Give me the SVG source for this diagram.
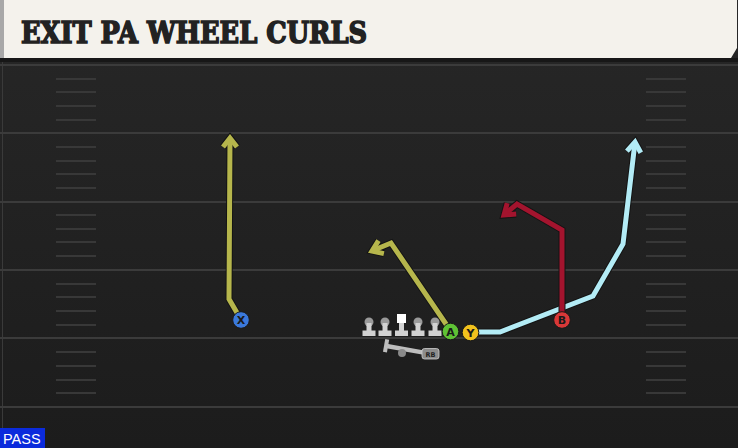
<svg xmlns="http://www.w3.org/2000/svg" width="738" height="448" viewBox="0 0 738 448">
<defs>
<linearGradient id="fieldg" x1="0" y1="0" x2="0" y2="1">
<stop offset="0" stop-color="#272727"/>
<stop offset="1" stop-color="#1c1c1c"/>
</linearGradient>
<style>
.yl{stroke:#3b3b3b;stroke-width:2}
.hm{stroke:#383838;stroke-width:2}
.out{fill:none;stroke:#141414;stroke-width:7;stroke-linejoin:miter;stroke-linecap:butt}
.rt{fill:none;stroke-width:5;stroke-linejoin:miter;stroke-linecap:butt}
.pl{stroke:#1a1a1a;stroke-width:1}
.lbl{font-family:"DejaVu Sans",sans-serif;font-weight:bold;font-size:11px;fill:#1a1a1a;text-anchor:middle}
.ol{fill:#d2d2d2}
.head{fill:#9a9a9a}
</style>
</defs>
<rect x="0" y="0" width="738" height="448" fill="url(#fieldg)"/>
<rect x="0" y="58" width="738" height="4" fill="#171717"/>
<line x1="2.5" y1="62" x2="2.5" y2="448" stroke="#3a3a3a" stroke-width="1"/>
<g id="yardlines">
<line class="yl" x1="0" y1="65" x2="738" y2="65"/>
<line class="yl" x1="0" y1="133" x2="738" y2="133"/>
<line class="yl" x1="0" y1="202" x2="738" y2="202"/>
<line class="yl" x1="0" y1="270" x2="738" y2="270"/>
<line class="yl" x1="0" y1="338" x2="738" y2="338"/>
<line class="yl" x1="0" y1="407" x2="738" y2="407"/>
</g>
<g id="hashes">
<path class="hm" d="M56 79H96M56 92H96M56 106H96M56 120H96M56 147H96M56 161H96M56 174H96M56 188H96M56 215H96M56 229H96M56 242H96M56 256H96M56 284H96M56 297H96M56 311H96M56 325H96M56 352H96M56 366H96M56 380H96M56 393H96"/>
<path class="hm" d="M646 79H686M646 92H686M646 106H686M646 120H686M646 147H686M646 161H686M646 174H686M646 188H686M646 215H686M646 229H686M646 242H686M646 256H686M646 284H686M646 297H686M646 311H686M646 325H686M646 352H686M646 366H686M646 380H686M646 393H686"/>
</g>
<g id="header">
<polygon points="0,0 737,0 737,48 731,58 0,58" fill="#f4f2ec"/>
<rect x="0" y="0" width="4" height="58" fill="#a8a8a8"/>
<text x="21" y="43" font-family="'DejaVu Serif',serif" font-weight="900" font-size="30" fill="#222222" stroke="#222222" stroke-width="1.6" textLength="346" lengthAdjust="spacingAndGlyphs">EXIT PA WHEEL CURLS</text>
</g>
<g id="connectors">
<g id="route-x">
<polyline class="out" points="240,318 229,299 230,139"/>
<polyline class="out" points="223,147 230,138 237,147"/>
<polyline class="rt" stroke="#b6b64c" points="240,318 229,299 230,139"/>
<polyline class="rt" stroke="#b6b64c" points="223,147 230,138 237,147"/>
</g>
<g id="route-a">
<polyline class="out" points="448,327 391,243 373,250.5"/>
<polyline class="out" points="383.9,253.6 372,251 378.5,240.6"/>
<polyline class="rt" stroke="#b6b64c" points="448,327 391,243 373,250.5"/>
<polyline class="rt" stroke="#b6b64c" points="383.9,253.6 372,251 378.5,240.6"/>
</g>
<g id="route-y">
<polyline class="out" points="472,332 500,332 593,296 623,244 634.9,143"/>
<polyline class="out" points="640.8,152.7 635,142 626.9,151.1"/>
<polyline class="rt" stroke="#b3ecf6" points="472,332 500,332 593,296 623,244 634.9,143"/>
<polyline class="rt" stroke="#b3ecf6" points="640.8,152.7 635,142 626.9,151.1"/>
</g>
<g id="route-b">
<polyline class="out" points="562,316 562,230 517,204 505,214"/>
<polyline class="out" points="516.2,213.9 504,215 507.2,203.1"/>
<polyline class="rt" stroke="#a3142e" points="562,316 562,230 517,204 505,214"/>
<polyline class="rt" stroke="#a3142e" points="516.2,213.9 504,215 507.2,203.1"/>
</g>
</g>
<g id="line-lt"><circle class="head" cx="369" cy="322" r="4.5"/><path class="ol" d="M366.5 323H371.5V330.5H375.5V336H362.5V330.5H366.5Z"/></g>
<g id="line-lg"><circle class="head" cx="385" cy="322" r="4.5"/><path class="ol" d="M382.5 323H387.5V330.5H391.5V336H378.5V330.5H382.5Z"/></g>
<g id="line-c"><rect x="397" y="314" width="9" height="9" fill="#ffffff"/><path class="ol" d="M399 323H404V330.5H408V336H395V330.5H399Z"/></g>
<g id="line-rg"><circle class="head" cx="418" cy="322" r="4.5"/><path class="ol" d="M415.5 323H420.5V330.5H424.5V336H411.5V330.5H415.5Z"/></g>
<g id="line-rt"><circle class="head" cx="435" cy="322" r="4.5"/><path class="ol" d="M432.5 323H437.5V330.5H441.5V336H428.5V330.5H432.5Z"/></g>
<g id="rb">
<g transform="rotate(10 385 346)"><rect x="384" y="339" width="4" height="13" fill="#bdbdbd"/><rect x="385" y="343.5" width="38" height="4.5" fill="#bdbdbd"/></g>
<circle cx="402" cy="353" r="4" fill="#8a8a8a"/>
<rect x="422" y="348.5" width="17" height="10.5" rx="2.5" fill="#8c8c8c" stroke="#cfcfcf" stroke-width="0.8"/>
<text x="430.5" y="356.5" font-family="'DejaVu Sans',sans-serif" font-weight="bold" font-size="6.5" fill="#222" text-anchor="middle">RB</text>
</g>
<g id="player-x"><circle cx="241" cy="320" r="8.3" fill="#3b79dc" class="pl"/><text class="lbl" x="241" y="324">X</text></g>
<g id="player-a"><circle cx="450.5" cy="331.5" r="8.3" fill="#5fc235" class="pl"/><text class="lbl" x="450.5" y="335.5">A</text></g>
<g id="player-y"><circle cx="470.5" cy="332.5" r="8.3" fill="#f2c21d" class="pl"/><text class="lbl" x="470.5" y="336.5">Y</text></g>
<g id="player-b"><circle cx="562" cy="320" r="8.3" fill="#d93838" class="pl"/><text class="lbl" x="562" y="324">B</text></g>
<g id="pass-tag">
<rect x="0" y="428" width="45" height="20" fill="#0b2bdc"/>
<text x="3" y="444" font-family="'Liberation Sans',sans-serif" font-size="14.5" fill="#ffffff">PASS</text>
</g>
</svg>
